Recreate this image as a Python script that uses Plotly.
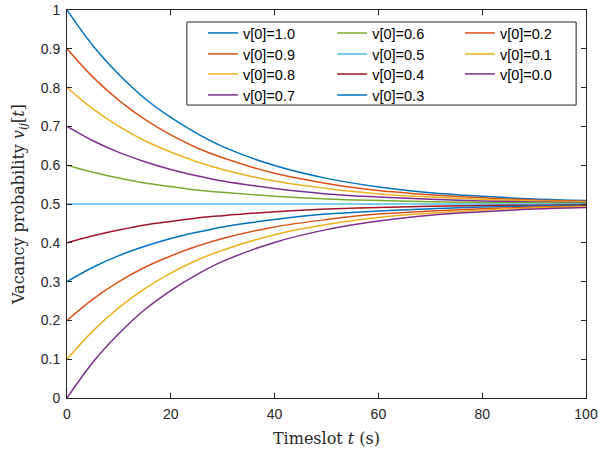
import plotly.graph_objects as go

t = [0, 5, 10, 15, 20, 25, 30, 40, 50, 60, 70, 80, 90, 100]

v10 = [1.000, 0.908, 0.834, 0.772, 0.723, 0.682, 0.648, 0.599, 0.566, 0.544, 0.529, 0.520, 0.513, 0.509]
v09 = [0.900, 0.827, 0.767, 0.718, 0.678, 0.645, 0.619, 0.579, 0.553, 0.535, 0.524, 0.516, 0.510, 0.507]
v08 = [0.800, 0.745, 0.700, 0.663, 0.634, 0.609, 0.589, 0.559, 0.540, 0.526, 0.518, 0.512, 0.508, 0.505]
v07 = [0.700, 0.663, 0.633, 0.609, 0.589, 0.573, 0.559, 0.540, 0.526, 0.518, 0.512, 0.508, 0.505, 0.503]
v06 = [0.600, 0.582, 0.567, 0.554, 0.545, 0.536, 0.530, 0.520, 0.513, 0.509, 0.506, 0.504, 0.503, 0.502]
v05 = [0.500, 0.500, 0.500, 0.500, 0.500, 0.500, 0.500, 0.500, 0.500, 0.500, 0.500, 0.500, 0.500, 0.500]
v04 = [0.400, 0.418, 0.433, 0.446, 0.455, 0.464, 0.470, 0.480, 0.487, 0.491, 0.494, 0.496, 0.497, 0.498]
v03 = [0.300, 0.337, 0.367, 0.391, 0.411, 0.427, 0.441, 0.460, 0.474, 0.482, 0.488, 0.492, 0.495, 0.497]
v02 = [0.200, 0.255, 0.300, 0.337, 0.366, 0.391, 0.411, 0.441, 0.460, 0.474, 0.482, 0.488, 0.492, 0.495]
v01 = [0.100, 0.173, 0.233, 0.282, 0.322, 0.355, 0.381, 0.421, 0.447, 0.465, 0.476, 0.484, 0.490, 0.493]
v00 = [0.000, 0.092, 0.166, 0.228, 0.277, 0.318, 0.352, 0.401, 0.434, 0.456, 0.471, 0.480, 0.487, 0.491]

labels = ["v[0]=1.0", "v[0]=0.9", "v[0]=0.8", "v[0]=0.7", "v[0]=0.6", "v[0]=0.5",
          "v[0]=0.4", "v[0]=0.3", "v[0]=0.2", "v[0]=0.1", "v[0]=0.0"]
series = [v10, v09, v08, v07, v06, v05, v04, v03, v02, v01, v00]
colors = ["#0072BD", "#D95319", "#EDB120", "#7E2F8E", "#77AC30", "#4DBEEE",
          "#A2142F", "#0072BD", "#D95319", "#EDB120", "#7E2F8E"]

x_ticks = [0, 20, 40, 60, 80, 100]
y_ticks = [0, 0.1, 0.2, 0.3, 0.4, 0.5, 0.6, 0.7, 0.8, 0.9, 1]

# legend grid (3 columns, column-major like the reference)
col_x = [0.262, 0.511, 0.757]
row_y = [0.9407, 0.8866, 0.8351, 0.7809]

fig = go.Figure()
legends = {}
for i, (lab, ys, col) in enumerate(zip(labels, series, colors)):
    lid = "legend" if i == 0 else f"legend{i + 1}"
    fig.add_trace(go.Scatter(
        x=t, y=ys, mode="lines", name=lab, legend=lid,
        line=dict(color=col, width=1.5, shape="spline"),
    ))
    legends[lid] = dict(
        x=col_x[i // 4], y=row_y[i % 4], xanchor="left", yanchor="middle",
        font=dict(family="Liberation Sans, Arial", size=14.5, color="#000000"),
        bgcolor="rgba(0,0,0,0)", borderwidth=0, orientation="v",
    )

axis_common = dict(
    showgrid=False, zeroline=False, showline=True, linecolor="#262626",
    linewidth=1, mirror="ticks", ticks="inside", ticklen=5, tickcolor="#262626",
    automargin=False, ticklabelstandoff=3,
    tickfont=dict(family="Liberation Sans, Arial", size=14, color="#262626"),
)

fig.update_layout(
    width=598, height=453,
    margin=dict(l=67, r=12, t=10, b=55, autoexpand=False),
    paper_bgcolor="white", plot_bgcolor="white",
    showlegend=True,
    xaxis=dict(range=[0, 100], tickvals=x_ticks,
               title=dict(text="Timeslot <i>t</i> (s)", standoff=12,
                          font=dict(family="DejaVu Serif", size=16, color="#262626")),
               **axis_common),
    yaxis=dict(range=[0, 1], tickvals=y_ticks,
               ticktext=[f"{v:g}" for v in y_ticks],
               title=dict(text="Vacancy probability <i>v</i><sub><i>ij</i></sub>[<i>t</i>]", standoff=12,
                          font=dict(family="DejaVu Serif", size=16, color="#262626")),
               **axis_common),
    shapes=[dict(type="rect", xref="paper", yref="paper",
                 x0=0.231, x1=0.981, y0=0.755, y1=0.969,
                 line=dict(color="#262626", width=1), fillcolor="white", layer="below")],
    **legends,
)

fig.write_html("out.html", config={"displayModeBar": False},
               post_script="document.body.style.margin='0';document.body.style.overflow='hidden';")
